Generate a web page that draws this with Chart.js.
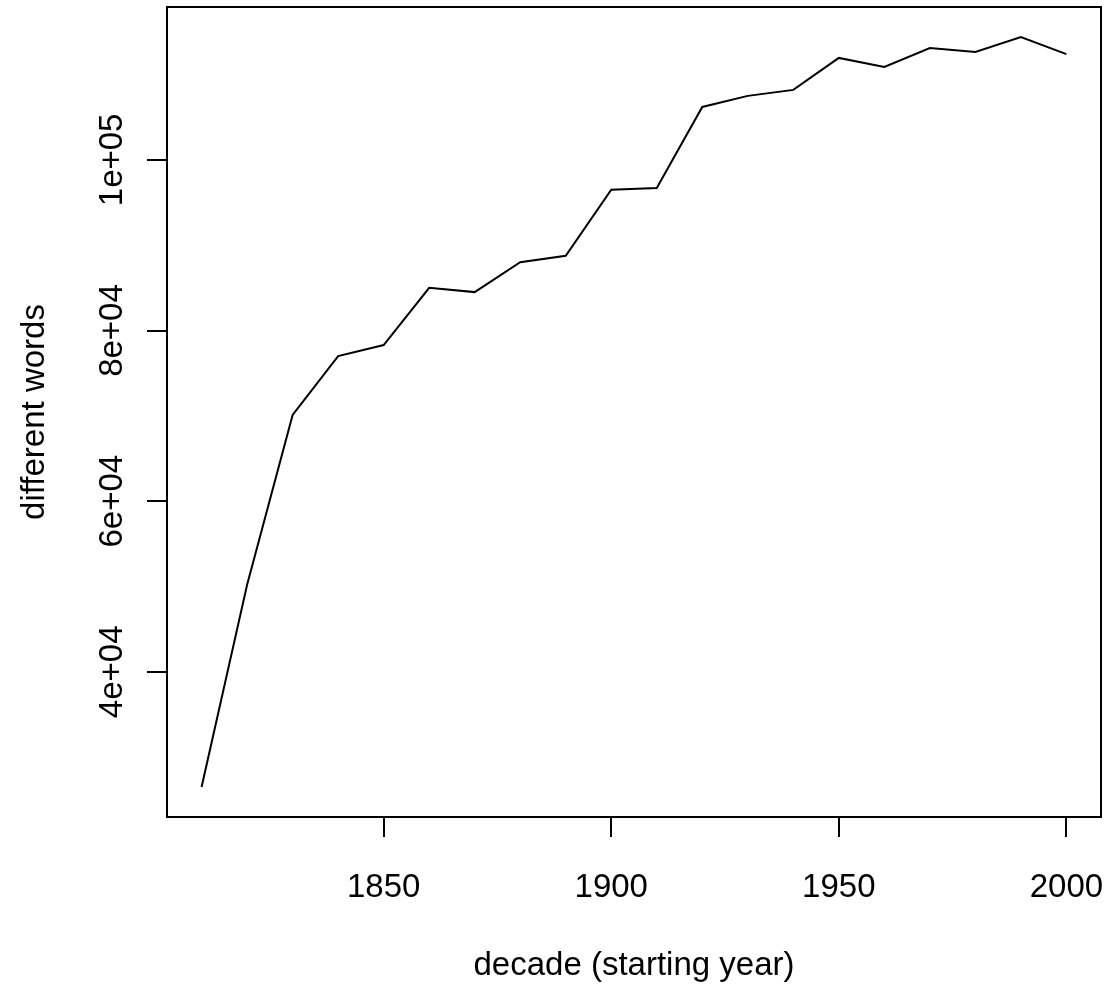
<!DOCTYPE html>
<html>
<head>
<meta charset="utf-8">
<script src="https://cdn.jsdelivr.net/npm/chart.js@4"></script>
<style>
  body { margin: 0; background: #fff; }
  #wordsChart { display: block; }
</style>
</head>
<body>
<canvas id="wordsChart" width="1111" height="989"></canvas>
<script>
// decades (starting year)
var decades = [1810, 1820, 1830, 1840, 1850, 1860, 1870, 1880, 1890, 1900,
               1910, 1920, 1930, 1940, 1950, 1960, 1970, 1980, 1990, 2000];
// number of different words per decade
var differentWords = [26500, 50200, 70100, 77000, 78300, 85000, 84500, 88000, 88750, 96500,
                      96700, 106200, 107500, 108200, 111950, 110900, 113100, 112650, 114400, 112400];
var xTicks = [1850, 1900, 1950, 2000];
var yTicks = [40000, 60000, 80000, 100000];
var yTickLabels = ['4e+04', '6e+04', '8e+04', '1e+05'];

var points = [];
decades.forEach(function (d, i) {
    points.push({ x: d, y: differentWords[i] });
});

// R style axis range: data range plus 4% each side
var xSpan = decades[decades.length - 1] - decades[0];
var yLo = Math.min.apply(null, differentWords);
var yHi = Math.max.apply(null, differentWords);
var ySpan = yHi - yLo;

var font = { family: 'Liberation Sans, Arial, sans-serif', size: 33 };

// full box round the plot area, like R's box()
var boxPlugin = {
    id: 'box',
    afterDraw: function (chart) {
        var a = chart.chartArea;
        var ctx = chart.ctx;
        ctx.save();
        ctx.strokeStyle = '#000';
        ctx.lineWidth = 2;
        ctx.strokeRect(a.left, a.top, a.right - a.left, a.bottom - a.top);
        ctx.restore();
    }
};

var ctx = document.getElementById('wordsChart');
var myChart = new Chart(ctx, {
    type: 'line',
    data: {
        datasets: [{
            data: points,
            borderColor: '#000',
            borderWidth: 2,
            pointRadius: 0,
            tension: 0,
            fill: false
        }]
    },
    options: {
        responsive: false,
        animation: false,
        devicePixelRatio: 1,
        layout: { padding: { top: 7, right: 10, left: 0, bottom: 0 } },
        plugins: { legend: { display: false }, tooltip: { enabled: false } },
        scales: {
            x: {
                type: 'linear',
                min: decades[0] - 0.04 * xSpan,
                max: decades[decades.length - 1] + 0.04 * xSpan,
                afterBuildTicks: function (scale) {
                    scale.ticks = xTicks.map(function (v) { return { value: v }; });
                },
                afterFit: function (scale) {
                    scale.height = 172;
                    scale.paddingLeft = 0;
                    scale.paddingRight = 0;
                },
                border: { display: false },
                grid: { drawOnChartArea: false, drawTicks: true, tickLength: 20, color: '#000', lineWidth: 2 },
                ticks: {
                    padding: 31,
                    color: '#000',
                    font: font,
                    maxRotation: 0,
                    autoSkip: false,
                    callback: function (v) { return String(v); }
                },
                title: {
                    display: true,
                    text: 'decade (starting year)',
                    color: '#000',
                    font: font,
                    padding: { top: 0, bottom: 3 }
                }
            },
            y: {
                type: 'linear',
                min: yLo - 0.04 * ySpan,
                max: yHi + 0.04 * ySpan,
                afterBuildTicks: function (scale) {
                    scale.ticks = yTicks.map(function (v) { return { value: v }; });
                },
                afterFit: function (scale) {
                    scale.width = 167;
                    scale.paddingTop = 0;
                    scale.paddingBottom = 0;
                },
                border: { display: false },
                grid: { drawOnChartArea: false, drawTicks: true, tickLength: 20, color: '#000', lineWidth: 2 },
                ticks: {
                    padding: -12,
                    crossAlign: 'center',
                    minRotation: 90,
                    maxRotation: 90,
                    color: '#000',
                    font: font,
                    autoSkip: false,
                    callback: function (v) {
                        var i = yTicks.indexOf(v);
                        return i >= 0 ? yTickLabels[i] : '';
                    }
                },
                title: {
                    display: true,
                    text: 'different words',
                    color: '#000',
                    font: font,
                    padding: { top: 15, bottom: 0 }
                }
            }
        }
    },
    plugins: [boxPlugin]
});
</script>
</body>
</html>
